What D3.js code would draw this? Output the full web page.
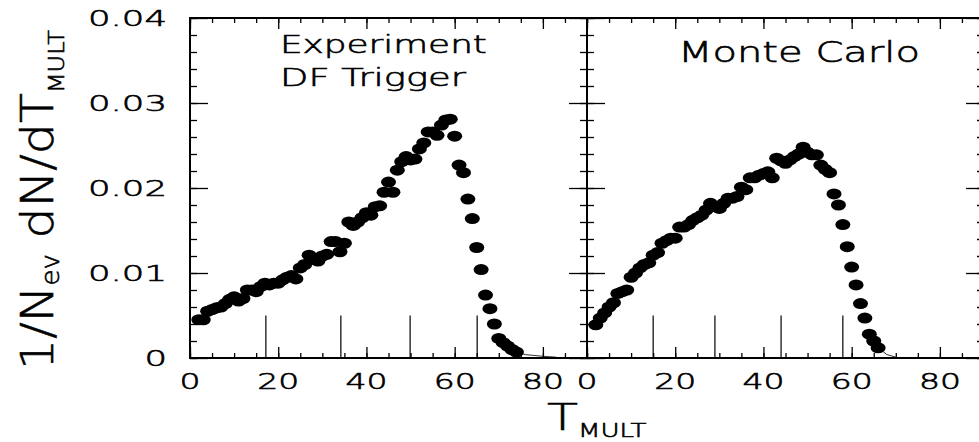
<!DOCTYPE html>
<html>
<head>
<meta charset="utf-8">
<script src="https://cdn.jsdelivr.net/npm/d3@7"></script>
<style>
  body { margin: 0; background: #fff; }
  text { font-family: "DejaVu Sans", sans-serif; font-weight: 200; fill: #000; stroke: #000; stroke-width: 0.6px; }
</style>
</head>
<body>
<div id="chart"></div>
<script>
// Experiment (DF trigger) distribution
var expX = [2,3,4,5,6,7,8,9,10,11,12,13,14,15,16,17,18,19,20,21,22,23,24,25,26,27,28,29,30,31,32,33,34,35,36,37,38,39,40,41,42,43,44,45,46,47,48,49,50,51,52,53,54,55,56,57,58,59,60,61,62,63,64,65,66,67,68,69,70,71,72,73,74];
var expY = [0.0045,0.0045,0.0055,0.0057,0.0059,0.0060,0.0064,0.0069,0.0072,0.0067,0.0070,0.0080,0.0080,0.0078,0.0084,0.0088,0.0086,0.0088,0.0088,0.0092,0.0095,0.0097,0.0093,0.0106,0.0110,0.0121,0.0116,0.0114,0.0120,0.0122,0.0137,0.0137,0.0125,0.0135,0.0160,0.0156,0.0160,0.0165,0.0171,0.0168,0.0178,0.0179,0.0195,0.0207,0.0195,0.0221,0.0231,0.0237,0.0233,0.0234,0.0246,0.0253,0.0266,0.0266,0.0262,0.0274,0.0280,0.0281,0.0261,0.0227,0.0218,0.0187,0.0164,0.0130,0.0104,0.0074,0.0058,0.0040,0.0023,0.0018,0.0014,0.0010,0.0007];
var expTailX = [74,76,78,80,83];
var expTailY = [0.0007,0.0004,0.0003,0.0002,0.0001];
var expMarks = [17.2,34.2,49.9,65.1];

// Monte Carlo distribution
var mcX = [2,3,4,5,6,7,8,9,10,11,12,13,14,15,16,17,18,19,20,21,22,23,24,25,26,27,28,29,30,31,32,33,34,35,36,37,38,39,40,41,42,43,44,45,46,47,48,49,50,51,52,53,54,55,56,57,58,59,60,61,62,63,64,65,66];
var mcY = [0.0039,0.0047,0.0053,0.0060,0.0065,0.0076,0.0078,0.0080,0.0095,0.0100,0.0106,0.0110,0.0112,0.0121,0.0124,0.0135,0.0138,0.0141,0.0141,0.0154,0.0154,0.0157,0.0162,0.0165,0.0168,0.0174,0.0182,0.0178,0.0176,0.0182,0.0188,0.0188,0.0190,0.0201,0.0198,0.0212,0.0212,0.0215,0.0217,0.0219,0.0212,0.0235,0.0232,0.0229,0.0233,0.0237,0.0240,0.0248,0.0242,0.0239,0.0239,0.0227,0.0222,0.0218,0.0193,0.0180,0.0157,0.0131,0.0107,0.0086,0.0064,0.0047,0.0028,0.0020,0.0012];
var mcTailX = [66,68,70];
var mcTailY = [0.0012,0.0004,0.0001];
var mcMarks = [15.0,29.0,44.0,58.0];

var xTicks = [0,20,40,60,80];
var yTicks = [0,0.01,0.02,0.03,0.04];
var yTickLabels = ["0","0.01","0.02","0.03","0.04"];

var svg = d3.select("#chart").append("svg").attr("width", 979).attr("height", 442);

var plotTop = 18, plotBottom = 358;
var y = d3.scaleLinear().domain([0, 0.04]).range([plotBottom, plotTop]);

// horizontal factor that makes a text as wide as in the original
function stretch(t, w) {
  var bw = t.node().getBBox().width;
  return w / bw;
}

function panel(x0, x1, xs, ys, tailX, tailY, marks, label, showY) {
  var x = d3.scaleLinear().domain([0, 90]).range([x0, x1]);
  var g = svg.append("g");

  // tall markers from the bottom
  g.selectAll(".mark").data(marks).enter().append("line")
    .attr("x1", function (d) { return x(d); }).attr("x2", function (d) { return x(d); })
    .attr("y1", y(0)).attr("y2", y(0.005))
    .attr("stroke", "#000").attr("stroke-width", 1.2);

  // ticks, all pointing inwards
  var minorX = d3.range(0, 91, 5), minorY = d3.range(0, 0.0401, 0.002);
  g.append("g").attr("transform", "translate(0," + plotBottom + ")")
    .call(d3.axisBottom(x).tickValues(minorX).tickSize(-5).tickFormat(""));
  g.append("g").attr("transform", "translate(0," + plotBottom + ")")
    .call(d3.axisBottom(x).tickValues(xTicks).tickSize(-11).tickFormat(""));
  g.append("g").attr("transform", "translate(0," + plotTop + ")")
    .call(d3.axisTop(x).tickValues(minorX).tickSize(-5).tickFormat(""));
  g.append("g").attr("transform", "translate(0," + plotTop + ")")
    .call(d3.axisTop(x).tickValues(xTicks).tickSize(-11).tickFormat(""));
  g.append("g").attr("transform", "translate(" + x0 + ",0)")
    .call(d3.axisLeft(y).tickValues(minorY).tickSize(-7).tickFormat(""));
  g.append("g").attr("transform", "translate(" + x0 + ",0)")
    .call(d3.axisLeft(y).tickValues(yTicks).tickSize(-18).tickFormat(""));
  g.append("g").attr("transform", "translate(" + x1 + ",0)")
    .call(d3.axisRight(y).tickValues(minorY).tickSize(-7).tickFormat(""));
  g.append("g").attr("transform", "translate(" + x1 + ",0)")
    .call(d3.axisRight(y).tickValues(yTicks).tickSize(-18).tickFormat(""));
  g.selectAll(".domain").remove();
  g.selectAll(".tick line").attr("stroke", "#000").attr("stroke-width", 1.3);

  // frame
  g.append("rect").attr("x", x0).attr("y", plotTop).attr("width", x1 - x0).attr("height", plotBottom - plotTop)
    .attr("fill", "none").attr("stroke", "#000").attr("stroke-width", 2);

  // tail line
  g.append("path")
    .datum(d3.zip(tailX, tailY))
    .attr("d", d3.line().x(function (d) { return x(d[0]); }).y(function (d) { return y(d[1]); }))
    .attr("fill", "none").attr("stroke", "#000").attr("stroke-width", 0.8);

  // points
  g.selectAll(".pt").data(d3.zip(xs, ys)).enter().append("ellipse")
    .attr("cx", function (d) { return x(d[0]); })
    .attr("cy", function (d) { return y(d[1]); })
    .attr("rx", 7.5).attr("ry", 5.5).attr("fill", "#000");

  // x tick labels
  xTicks.forEach(function (v) {
    svg.append("text").attr("text-anchor", "middle").style("font-size", "22px").text(v)
      .attr("transform", "translate(" + x(v) + ",389) scale(1.5,1)");
  });

  // y tick labels, stretched so "0.04" is as wide as in the original
  if (showY) {
    var probe = svg.append("text").style("font-size", "22px").text("0.04");
    var ky = stretch(probe, 79);
    probe.remove();
    yTicks.forEach(function (v, i) {
      svg.append("text").attr("text-anchor", "end").style("font-size", "22px").text(yTickLabels[i])
        .attr("transform", "translate(167," + (y(v) + 8) + ") scale(" + ky + ",1)");
    });
  }

  // panel labels
  label.forEach(function (l) {
    var t = svg.append("text").style("font-size", l.size + "px").text(l.text);
    var k = stretch(t, l.w);
    t.attr("transform", "translate(" + l.x + "," + l.y + ") scale(" + k + ",1)");
  });
}

panel(190, 587, expX, expY, expTailX, expTailY, expMarks,
  [{ text: "Experiment", x: 280, y: 53, w: 207, size: 25 },
   { text: "DF Trigger", x: 280, y: 86, w: 187, size: 25 }], true);
panel(587, 984, mcX, mcY, mcTailX, mcTailY, mcMarks,
  [{ text: "Monte Carlo", x: 678, y: 62, w: 242, size: 28 }], false);

// y axis title
var yt = svg.append("text").style("font-size", "45px");
yt.append("tspan").text("1/N");
yt.append("tspan").attr("dy", 6).style("font-size", "24px").text("ev");
yt.append("tspan").attr("dy", -6).text(" dN/dT");
yt.append("tspan").attr("dy", 11).style("font-size", "22px").text("MULT");
var kt = stretch(yt, 340);
yt.attr("transform", "translate(53,370) rotate(-90) scale(" + kt + ",1)");

// x axis title
var xt = svg.append("text").style("font-size", "37px");
xt.append("tspan").text("T");
xt.append("tspan").attr("dy", 7).style("font-size", "19px").text("MULT");
var kx = stretch(xt, 100);
xt.attr("transform", "translate(547,430) scale(" + kx + ",1)");
</script>
</body>
</html>
